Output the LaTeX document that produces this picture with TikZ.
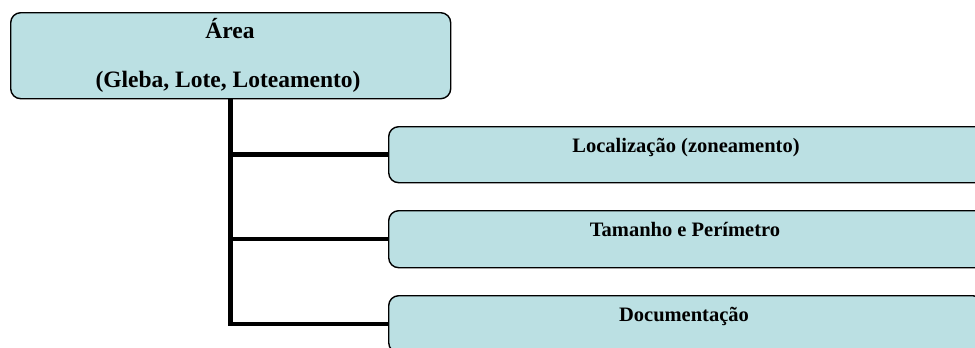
\documentclass[tikz,border=0pt]{standalone}
\usepackage{fontspec}
\setmainfont{Liberation Serif}
\definecolor{boxfill}{HTML}{BBE0E3}
\tikzset{
  box/.style={draw=black, line width=1.4pt, fill=boxfill, rounded corners=10pt,
              inner sep=0pt, anchor=north west},
  bigtext/.style={font=\bfseries\fontsize{23.5}{28}\selectfont, anchor=base, inner sep=0pt},
  smalltext/.style={font=\bfseries\fontsize{20.5}{24}\selectfont, anchor=base, inner sep=0pt},
  trunk/.style={line width=4.5pt, black}
}
\begin{document}
\begin{tikzpicture}[x=1pt,y=-1pt]
  \useasboundingbox (0,0) rectangle (975,348);
  % root box
  \node[box, minimum width=440pt, minimum height=86pt] (top) at (10,12) {};
  \node[bigtext] (topa) at (230,38) {Área};
  \node[bigtext] (topb) at (228,87) {(Gleba, Lote, Loteamento)};
  % child boxes
  \node[box, minimum width=602pt, minimum height=56pt] (b1) at (388,126) {};
  \node[box, minimum width=602pt, minimum height=57pt] (b2) at (388,210) {};
  \node[box, minimum width=594pt, minimum height=57pt] (b3) at (388,295) {};
  \node[smalltext] (t1) at (686,152) {Localização (zoneamento)};
  \node[smalltext] (t2) at (685,236) {Tamanho e Perímetro};
  \node[smalltext] (t3) at (684,321) {Documentação};
  % connectors
  \draw[trunk] (top.south) |- (b3.west);
  \draw[trunk] (top.south |- b1.west) -- (b1.west);
  \draw[trunk] (top.south |- b2.west) -- (b2.west);
\end{tikzpicture}
\end{document}
